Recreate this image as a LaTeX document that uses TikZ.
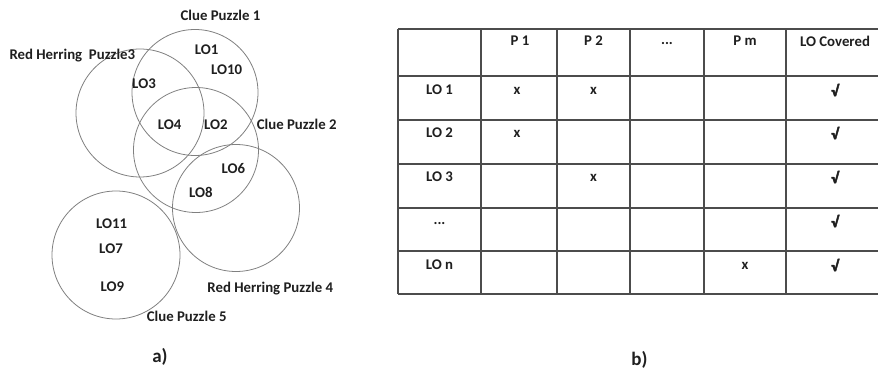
\documentclass[tikz,border=0pt]{standalone}
\usepackage{fontspec}
\setmainfont{Carlito}
\newfontfamily\symfam[FakeBold=2.5]{Carlito}
\begin{document}
\begin{tikzpicture}[x=1pt,y=-1pt,
  lbl/.style={font=\bfseries\fontsize{14.8}{16}\selectfont, inner sep=0pt, text=black!88},
  chk/.style={font=\symfam\bfseries\fontsize{15.5}{17}\selectfont, inner sep=0pt, text=black!88},
  partlbl/.style={font=\bfseries\fontsize{19}{21}\selectfont, inner sep=0pt, text=black!88},
  ring/.style={circle, draw=black!50, line width=0.8pt, minimum size=#1, inner sep=0pt},
  gridline/.style={draw=black!70, line width=1.1pt}]
\useasboundingbox (0,0) rectangle (878,374);
% circles
\node[ring=126pt] (c1) at (195,92.5) {};
\node[ring=128pt] (c3) at (140,113) {};
\node[ring=125pt] (c2) at (196,150) {};
\node[ring=127pt] (c4) at (236,208) {};
\node[ring=128pt] (c5) at (116,255) {};
% labels a)
\node[lbl] (t1) at (220.5,15) {Clue Puzzle 1};
\node[lbl, anchor=west] (t3) at (9.3,56) {Red Herring\ \ Puzzle3};
\node[lbl] (t2) at (296.7,124) {Clue Puzzle 2};
\node[lbl] (t4) at (270.3,288.3) {Red Herring Puzzle 4};
\node[lbl] (t5) at (186.7,316.7) {Clue Puzzle 5};
\node[lbl] (lo1) at (206.7,50) {LO1};
\node[lbl] (lo10) at (226.7,69.3) {LO10};
\node[lbl] (lo3) at (144,83.3) {LO3};
\node[lbl] (lo4) at (169.7,124.3) {LO4};
\node[lbl] (lo2) at (215.8,124.3) {LO2};
\node[lbl] (lo6) at (233.3,168.3) {LO6};
\node[lbl] (lo8) at (200.8,192.7) {LO8};
\node[lbl] (lo11) at (111.7,223.3) {LO11};
\node[lbl] (lo7) at (111,248.3) {LO7};
\node[lbl] (lo9) at (112.3,286.7) {LO9};
\node[partlbl] (capa) at (160,356.7) {a)};
% table
\foreach \yy in {29,76,120,164,208,251,294} \draw[gridline] (398,\yy) -- (878,\yy);
\foreach \xx in {398,481,557,630,704,786} \draw[gridline] (\xx,29) -- (\xx,294);
\node[lbl] (h1) at (520,41) {P 1};
\node[lbl] (h2) at (593.5,41) {P 2};
\node[lbl, anchor=base] (h3) at (667,45) {...};
\node[lbl] (h4) at (745,41) {P m};
\node[lbl] (h5) at (835,41) {LO Covered};
\node[lbl] (r1) at (439.5,90) {LO 1};
\node[lbl] (r2) at (439.5,133) {LO 2};
\node[lbl] (r3) at (439.5,177) {LO 3};
\node[lbl, anchor=base] (r4) at (439.5,225) {...};
\node[lbl] (r5) at (439.5,265) {LO n};
\node[lbl] (x11) at (517,91) {x};
\node[lbl] (x12) at (593.5,91) {x};
\node[lbl] (x21) at (517,134) {x};
\node[lbl] (x32) at (593.5,178) {x};
\node[lbl] (x54) at (745,266) {x};
\node[chk] (v1) at (835,90) {√};
\node[chk] (v2) at (835,133) {√};
\node[chk] (v3) at (835,177) {√};
\node[chk] (v4) at (835,221) {√};
\node[chk] (v5) at (835,265) {√};
\node[partlbl] (capb) at (639.5,360) {b)};
\end{tikzpicture}
\end{document}
